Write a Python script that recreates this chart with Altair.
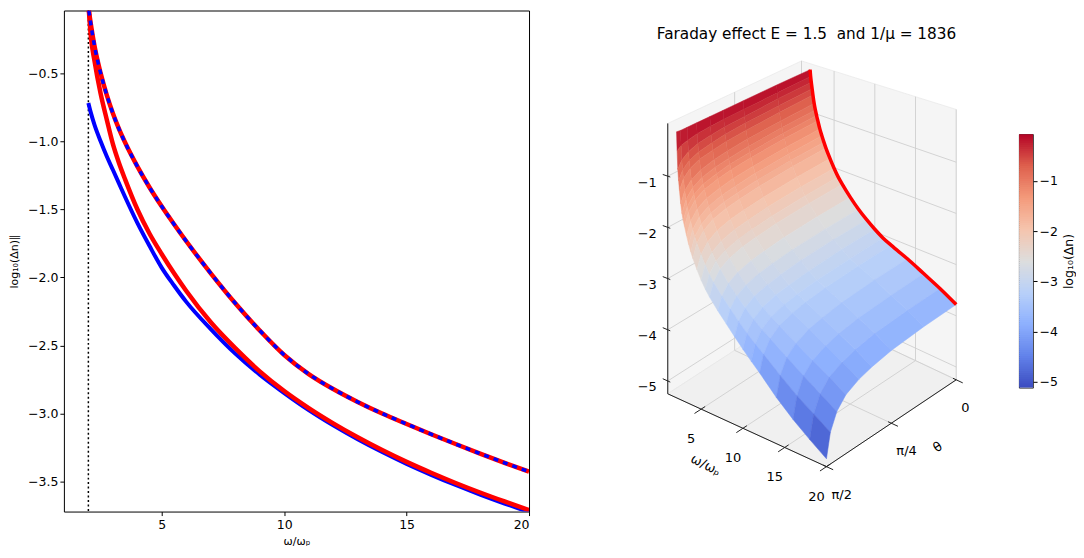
import altair as alt
import pandas as pd

FONT = "DejaVu Sans"

# ---------------- left panel data ----------------
omega_grid = [2.02, 2.1, 2.25, 2.5, 2.75, 3.0, 3.25, 3.5, 4.0, 4.5, 5.0, 5.5, 6.0,
              7.0, 8.0, 9.0, 10.0, 11.0, 12.0, 13.0, 14.0, 15.0, 16.0, 17.0, 18.0, 19.0, 20.0]
upper_dn = [-0.04, -0.14, -0.30, -0.50, -0.66, -0.795, -0.91, -1.01, -1.185, -1.34, -1.48, -1.61, -1.735,
            -1.97, -2.19, -2.39, -2.57, -2.71, -2.82, -2.915, -3.00, -3.077, -3.152, -3.224, -3.294, -3.362, -3.427]
lower_red_dn = [-0.04, -0.23, -0.41, -0.65, -0.84, -1.02, -1.16, -1.28, -1.50, -1.68, -1.83, -1.97, -2.10,
                -2.33, -2.52, -2.69, -2.835, -2.96, -3.072, -3.174, -3.268, -3.355, -3.435, -3.51, -3.58, -3.646, -3.709]
omega_blue = [2.0, 2.1, 2.25, 2.5, 2.75, 3.0, 3.25, 3.5, 4.0, 4.5, 5.0, 5.5, 6.0,
              7.0, 8.0, 9.0, 10.0, 11.0, 12.0, 13.0, 14.0, 15.0, 16.0, 17.0, 18.0, 19.0, 20.0]
lower_blue_dn = [-0.72, -0.79, -0.88, -1.00, -1.11, -1.21, -1.31, -1.41, -1.60, -1.77, -1.93, -2.06, -2.18,
                 -2.38, -2.56, -2.715, -2.85, -2.975, -3.087, -3.189, -3.283, -3.37, -3.45, -3.525, -3.595, -3.661, -3.724]
cutoff_omega = [2.0]
x_ticks = [5, 10, 15, 20]
y_ticks = [-3.5, -3.0, -2.5, -2.0, -1.5, -1.0, -0.5]

# ---------------- right panel data (3-D surface) ----------------
title_right = "Faraday effect E = 1.5\u00a0 and 1/μ = 1836"
cbar_title = "log₁₀(Δn)"
omega_s = [2.05, 2.12, 2.2, 2.3, 2.4, 2.55, 2.7, 2.85, 3.0, 3.25, 3.5, 3.75, 4.0, 4.5,
           5.0, 5.5, 6.0, 7.0, 8.0, 9.0, 10.0, 11.0, 12.0, 14.0, 16.0, 18.0, 20.0]
theta_s = [0.0, 0.25, 0.5, 0.65, 0.75, 0.85, 0.92, 0.97, 1.0]          # theta in units of pi/2
z_t000 = [-0.10, -0.24, -0.36, -0.49, -0.62, -0.79, -0.92, -1.03, -1.13, -1.29, -1.42, -1.54, -1.65, -1.84,
          -2.01, -2.16, -2.28, -2.49, -2.67, -2.82, -2.95, -3.06, -3.14, -3.28, -3.44, -3.60, -3.78]
z_t025 = [-0.09, -0.25, -0.37, -0.51, -0.64, -0.81, -0.94, -1.05, -1.15, -1.31, -1.44, -1.56, -1.67, -1.86,
          -2.03, -2.18, -2.30, -2.51, -2.69, -2.84, -2.97, -3.09, -3.17, -3.31, -3.48, -3.64, -3.82]
z_t050 = [-0.09, -0.26, -0.40, -0.53, -0.67, -0.84, -0.98, -1.09, -1.19, -1.35, -1.48, -1.60, -1.71, -1.90,
          -2.07, -2.22, -2.34, -2.55, -2.73, -2.88, -3.02, -3.13, -3.22, -3.37, -3.54, -3.70, -3.89]
z_t065 = [-0.09, -0.27, -0.42, -0.56, -0.70, -0.88, -1.02, -1.13, -1.23, -1.39, -1.53, -1.65, -1.76, -1.95,
          -2.12, -2.27, -2.39, -2.60, -2.78, -2.93, -3.07, -3.18, -3.27, -3.44, -3.61, -3.78, -3.97]
z_t075 = [-0.09, -0.28, -0.45, -0.60, -0.74, -0.92, -1.06, -1.18, -1.28, -1.44, -1.57, -1.69, -1.80, -1.99,
          -2.16, -2.31, -2.43, -2.64, -2.82, -2.98, -3.11, -3.23, -3.33, -3.50, -3.69, -3.86, -4.05]
z_t085 = [-0.09, -0.30, -0.49, -0.65, -0.79, -0.99, -1.13, -1.25, -1.35, -1.51, -1.65, -1.77, -1.88, -2.07,
          -2.24, -2.39, -2.51, -2.72, -2.90, -3.05, -3.20, -3.32, -3.42, -3.62, -3.81, -3.99, -4.18]
z_t092 = [-0.09, -0.34, -0.56, -0.73, -0.88, -1.09, -1.24, -1.36, -1.46, -1.62, -1.76, -1.89, -2.00, -2.19,
          -2.36, -2.50, -2.62, -2.83, -3.01, -3.17, -3.32, -3.45, -3.56, -3.78, -3.99, -4.19, -4.38]
z_t097 = [-0.09, -0.38, -0.66, -0.85, -1.01, -1.24, -1.40, -1.53, -1.63, -1.79, -1.94, -2.06, -2.17, -2.36,
          -2.53, -2.68, -2.80, -3.00, -3.18, -3.35, -3.51, -3.65, -3.78, -4.04, -4.28, -4.48, -4.68]
z_t100 = [-0.08, -0.45, -0.80, -1.02, -1.20, -1.45, -1.63, -1.76, -1.86, -2.03, -2.18, -2.31, -2.42, -2.61,
          -2.78, -2.92, -3.04, -3.24, -3.42, -3.60, -3.77, -3.93, -4.08, -4.40, -4.67, -4.90, -5.11]
z_rows = [z_t000, z_t025, z_t050, z_t065, z_t075, z_t085, z_t092, z_t097, z_t100]

omega3_ticks = [5, 10, 15, 20]
theta3_ticks = [0.0, 0.5, 1.0]
theta3_labels = ["0", "π/4", "π/2"]
z3_ticks = [-5, -4, -3, -2, -1]
z3_labels = ["−5", "−4", "−3", "−2", "−1"]
cbar_ticks = [-5, -4, -3, -2, -1]
cbar_range = [-5.12, -0.07]

# ---------------- left chart ----------------
xs = alt.Scale(domain=[1, 20], nice=False, zero=False)
ys = alt.Scale(domain=[-3.72, -0.04], nice=False, zero=False)
xax = alt.Axis(values=x_ticks, title="ω/ωₚ", labelPadding=3, titlePadding=5)
yax = alt.Axis(values=y_ticks, format=".1f", title="log₁₀(Δn)∥", titlePadding=8)


def curve(ws, vs, color, width, dash=None):
    kw = dict(color=color, strokeWidth=width, clip=True, interpolate="monotone")
    if dash:
        kw["strokeDash"] = dash
    return alt.Chart(pd.DataFrame({"omega": ws, "dn": vs})).mark_line(**kw).encode(
        x=alt.X("omega:Q", scale=xs, axis=xax), y=alt.Y("dn:Q", scale=ys, axis=yax))


cut = alt.Chart(pd.DataFrame({"omega": cutoff_omega})).mark_rule(
    color="black", strokeWidth=1.5, strokeDash=[2, 2.5]).encode(x=alt.X("omega:Q", scale=xs, axis=xax))

left = alt.layer(
    cut,
    curve(omega_blue, lower_blue_dn, "#0000ff", 4),
    curve(omega_grid, lower_red_dn, "#ff0000", 4.5),
    curve(omega_grid, upper_dn, "#ff0000", 4.5),
    curve(omega_grid, upper_dn, "#0000ff", 3.5, [5, 5]),
).properties(width=466, height=502, view=alt.ViewBackground(stroke="black", strokeWidth=1))

# ---------------- 3-D projection (box corners, panel pixels) ----------------
BOX = {"L": (53, 384), "F": (212, 457), "R": (342, 370), "B": (187, 297)}
Z_SCALE, PERSP = 51.3, 0.09
Z_LO, Z_HI = -5.25, 0.03
W_LO, W_HI = 1.0, 20.0


def project(w, t, z):
    p = f"(({w})-({W_LO}))/{W_HI - W_LO}"
    q = f"(1-({t}))"

    def bil(i):
        L, F, R, B = (BOX[k][i] for k in "LFRB")
        return f"((1-{p})*(1-{q})*{L}+{p}*(1-{q})*{F}+{p}*{q}*{R}+(1-{p})*{q}*{B})"

    return bil(0), f"({bil(1)}-(({z})-({Z_LO}))*{Z_SCALE}*(1+{PERSP}*({p}-{q})))"


PROJ = dict(type="identity", scale=1, translate=[0, 0])


def quad_chart(df):
    calc = {}
    for k in range(1, 5):
        x, y = project(f"datum.w{k}", f"datum.t{k}", f"datum.z{k}")
        calc[f"x{k}"] = x
        calc[f"y{k}"] = y
    calc2 = {"geo": "{type:'Polygon',coordinates:[[[datum.x1,datum.y1],[datum.x2,datum.y2],"
                    "[datum.x3,datum.y3],[datum.x4,datum.y4],[datum.x1,datum.y1]]]}"}
    return alt.Chart(df).transform_calculate(**calc).transform_calculate(**calc2)


def seg_chart(df):
    x1, y1 = project("datum.w1", "datum.t1", "datum.z1")
    x2, y2 = project("datum.w2", "datum.t2", "datum.z2")
    return alt.Chart(df).transform_calculate(x1=x1, y1=y1, x2=x2, y2=y2)


def pt_chart(df):
    x, y = project("datum.w", "datum.t", "datum.z")
    return alt.Chart(df).transform_calculate(x=x, y=y)


# panes
panes = pd.DataFrame([
    dict(w1=1, t1=1, z1=Z_LO, w2=1, t2=0, z2=Z_LO, w3=1, t3=0, z3=Z_HI, w4=1, t4=1, z4=Z_HI, fill="#f5f5f5"),
    dict(w1=1, t1=0, z1=Z_LO, w2=20, t2=0, z2=Z_LO, w3=20, t3=0, z3=Z_HI, w4=1, t4=0, z4=Z_HI, fill="#f5f5f5"),
    dict(w1=1, t1=1, z1=Z_LO, w2=20, t2=1, z2=Z_LO, w3=20, t3=0, z3=Z_LO, w4=1, t4=0, z4=Z_LO, fill="#f0f0f0"),
])
pane_layer = quad_chart(panes).mark_geoshape(stroke="#e4e4e4", strokeWidth=0.6).encode(
    shape=alt.Shape(field="geo", type="geojson"), fill=alt.Fill("fill:N", scale=None)).project(**PROJ)

# grid lines
grid_rows = []
for w in omega3_ticks:
    grid_rows.append(dict(w1=w, t1=0, z1=Z_LO, w2=w, t2=1, z2=Z_LO))
    grid_rows.append(dict(w1=w, t1=0, z1=Z_LO, w2=w, t2=0, z2=Z_HI))
for t in theta3_ticks:
    grid_rows.append(dict(w1=W_LO, t1=t, z1=Z_LO, w2=W_HI, t2=t, z2=Z_LO))
    grid_rows.append(dict(w1=W_LO, t1=t, z1=Z_LO, w2=W_LO, t2=t, z2=Z_HI))
for z in z3_ticks:
    grid_rows.append(dict(w1=W_LO, t1=0, z1=z, w2=W_LO, t2=1, z2=z))
    grid_rows.append(dict(w1=W_LO, t1=0, z1=z, w2=W_HI, t2=0, z2=z))
grid_layer = seg_chart(pd.DataFrame(grid_rows)).mark_rule(color="#cfcfcf", strokeWidth=0.9).encode(
    longitude="x1:Q", latitude="y1:Q", longitude2="x2:Q", latitude2="y2:Q").project(**PROJ)

# axis lines and ticks
ax_rows = [
    dict(w1=W_LO, t1=1, z1=Z_LO, w2=W_HI, t2=1, z2=Z_LO),
    dict(w1=W_HI, t1=1, z1=Z_LO, w2=W_HI, t2=0, z2=Z_LO),
    dict(w1=W_LO, t1=1, z1=Z_LO, w2=W_LO, t2=1, z2=Z_HI),
]
for w in omega3_ticks:
    ax_rows.append(dict(w1=w, t1=0.97, z1=Z_LO, w2=w, t2=1.05, z2=Z_LO))
for t in theta3_ticks:
    ax_rows.append(dict(w1=19.6, t1=t, z1=Z_LO, w2=20.8, t2=t, z2=Z_LO))
for z in z3_ticks:
    ax_rows.append(dict(w1=1.3, t1=1, z1=z, w2=0.4, t2=1, z2=z))
axis_layer = seg_chart(pd.DataFrame(ax_rows)).mark_rule(color="#222222", strokeWidth=1).encode(
    longitude="x1:Q", latitude="y1:Q", longitude2="x2:Q", latitude2="y2:Q").project(**PROJ)

# surface cells (far to near)
cells = []
for j in range(len(theta_s) - 1):
    for i in range(len(omega_s) - 1):
        zz = [z_rows[j][i], z_rows[j][i + 1], z_rows[j + 1][i + 1], z_rows[j + 1][i]]
        cells.append(dict(
            w1=omega_s[i], t1=theta_s[j], z1=zz[0],
            w2=omega_s[i + 1], t2=theta_s[j], z2=zz[1],
            w3=omega_s[i + 1], t3=theta_s[j + 1], z3=zz[2],
            w4=omega_s[i], t4=theta_s[j + 1], z4=zz[3],
            val=sum(zz) / 4,
            depth=(1 - (theta_s[j] + theta_s[j + 1]) / 2) - ((omega_s[i] + omega_s[i + 1]) / 2 - W_LO) / (W_HI - W_LO),
        ))
cells_df = pd.DataFrame(cells).sort_values("depth", ascending=False)

coolwarm = ["#3b4cc0", "#6282ea", "#8db0fe", "#b8d0f9", "#dddddd", "#f5c4ad", "#f49a7b", "#de604d", "#b40426"]
cb_lo, cb_hi = cbar_range
cdomain = [cb_lo + (cb_hi - cb_lo) * k / 8 for k in range(9)]
cscale = alt.Scale(domain=cdomain, range=coolwarm, interpolate="rgb")

surface_layer = quad_chart(cells_df).mark_geoshape(strokeWidth=0.5).encode(
    shape=alt.Shape(field="geo", type="geojson"),
    color=alt.Color("val:Q", scale=cscale, legend=None),
    stroke=alt.Stroke("val:Q", scale=cscale, legend=None),
).project(**PROJ)

# red edge at theta = 0
red_df = pd.DataFrame({"w": omega_s, "t": [0.0] * len(omega_s), "z": z_t000})
red_layer = pt_chart(red_df).mark_line(color="#ff0000", strokeWidth=3.5, interpolate="monotone").encode(
    longitude="x:Q", latitude="y:Q", order="w:Q").project(**PROJ)

# tick labels
wl = pd.DataFrame({"w": omega3_ticks, "t": [1] * 4, "z": [Z_LO] * 4, "lab": [str(v) for v in omega3_ticks]})
tl = pd.DataFrame({"w": [W_HI] * 3, "t": theta3_ticks, "z": [Z_LO] * 3, "lab": theta3_labels})
zl = pd.DataFrame({"w": [W_LO] * 5, "t": [1] * 5, "z": z3_ticks, "lab": z3_labels})
txt = dict(font=FONT, fontSize=13, color="black", baseline="middle")
w_lab = pt_chart(wl).mark_text(align="center", dx=-10, dy=30, **txt).encode(
    longitude="x:Q", latitude="y:Q", text="lab:N").project(**PROJ)
t_lab = pt_chart(tl).mark_text(align="left", dx=5, dy=28, **txt).encode(
    longitude="x:Q", latitude="y:Q", text="lab:N").project(**PROJ)
z_lab = pt_chart(zl).mark_text(align="right", dx=-11, dy=6.5, **txt).encode(
    longitude="x:Q", latitude="y:Q", text="lab:N").project(**PROJ)
w_title = pt_chart(pd.DataFrame({"w": [10.5], "t": [1], "z": [Z_LO], "lab": ["ω/ωₚ"]})).mark_text(
    align="center", dx=-21, dy=50, angle=27, **txt).encode(
    longitude="x:Q", latitude="y:Q", text="lab:N").project(**PROJ)
t_title = pt_chart(pd.DataFrame({"w": [W_HI], "t": [0.5], "z": [Z_LO], "lab": ["θ"]})).mark_text(
    align="center", dx=25, dy=46, angle=326, **txt).encode(
    longitude="x:Q", latitude="y:Q", text="lab:N").project(**PROJ)

title_layer = alt.Chart(pd.DataFrame({"lab": [title_right]})).mark_text(
    font=FONT, fontSize=15.3, color="black", align="center", baseline="middle").encode(
    text="lab:N", x=alt.value(192), y=alt.value(23.5))

right = alt.layer(
    pane_layer, grid_layer, axis_layer, surface_layer, red_layer,
    w_lab, t_lab, z_lab, w_title, t_title, title_layer,
).properties(width=384, height=502, view=alt.ViewBackground(stroke="transparent"))

# ---------------- colour bar (same colour scale, drawn as a stack of thin cells) ----------------
cbar_step = (cb_hi - cb_lo) / 120
cbar = alt.Chart(alt.sequence(cb_lo, cb_hi, cbar_step, as_="v")).transform_calculate(
    v2=f"datum.v + {cbar_step * 1.6}", vmid=f"datum.v + {cbar_step / 2}"
).mark_rect(clip=True).encode(
    y=alt.Y("v:Q", scale=alt.Scale(domain=cbar_range, nice=False, zero=False),
            axis=alt.Axis(orient="right", values=cbar_ticks, format=".0f", title=cbar_title,
                          titleAngle=270, titleBaseline="top", titlePadding=5,
                          titleFontSize=12.5, labelPadding=2)),
    y2="v2:Q",
    color=alt.Color("vmid:Q", scale=cscale, legend=None),
).properties(width=14, height=254, view=alt.ViewBackground(stroke="black", strokeWidth=0.8))

spacer = alt.Chart(pd.DataFrame({"s": []})).mark_point().properties(
    width=14, height=122, view=alt.ViewBackground(stroke="transparent"))

cbar_col = alt.vconcat(spacer, cbar, spacing=0)
right_group = alt.hconcat(right, cbar_col, spacing=19)

chart = alt.hconcat(left, right_group, spacing=84).properties(
    padding={"left": 0, "top": 0, "right": 0, "bottom": 0}
).configure_axis(
    labelFont=FONT, titleFont=FONT, labelColor="black", titleColor="black", tickColor="black",
    labelFontSize=12.5, titleFontSize=11, titleFontWeight="normal", grid=False, domain=False,
    tickSize=4, tickWidth=1,
).configure_view(stroke="transparent")

chart.save("out.html", embed_options={"renderer": "svg", "actions": False})
